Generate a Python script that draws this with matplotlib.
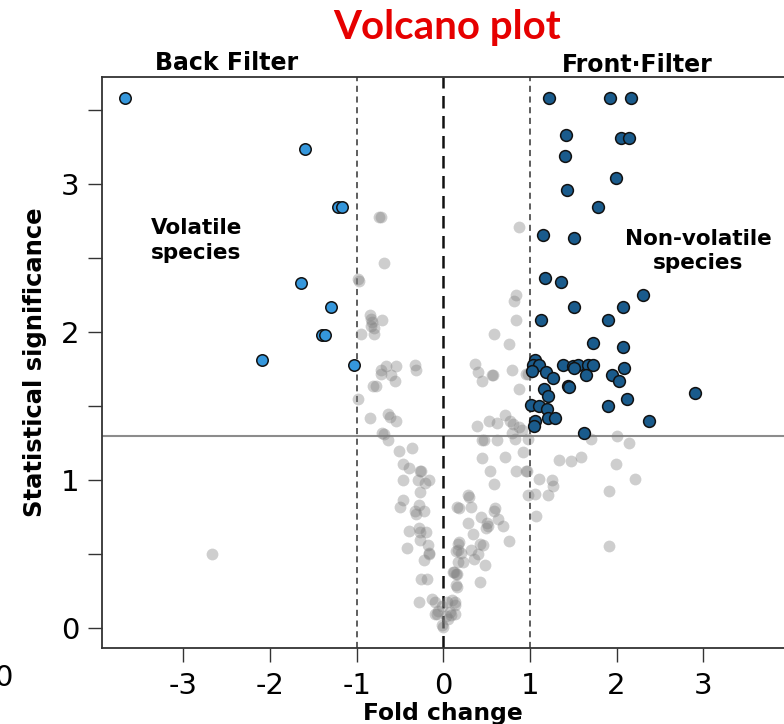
import matplotlib
matplotlib.use("Agg")
import matplotlib.pyplot as plt

plt.rcParams['axes.unicode_minus'] = False
plt.rcParams['font.family'] = ['DejaVu Sans']

# non-significant compounds
gray_fc = [-2.67, -0.74, -0.72, -0.68, -0.98, -0.97, -0.85, -0.83, -0.82, -0.71,
           -0.84, -0.80, -0.95, -0.80, -0.72, -0.66, -0.55, -0.72, -0.60, -0.56,
           -0.33, -0.32, -0.81, -0.78, -0.99, -0.85, -0.64, -0.61, -0.55,
           -0.71, -0.69, -0.64, -0.51, -0.36, -0.46, -0.40, -0.26, -0.27,
           -0.47, -0.29, -0.21, -0.16, -0.27, -0.46, -0.50, -0.28, -0.33, -0.31,
           -0.22, 0.16, -0.40, -0.28, -0.27, -0.20, -0.27, -0.42, -0.18, -0.16,
           -0.17, -0.22, 0.17, 0.15, 0.17, -0.26, -0.19, 0.12, 0.15, 0.15, -0.28,
           -0.13, -0.10, -0.06, -0.10, -0.02, 0.04, 0.10, 0.13, 0.08, 0.03, 0.00,
           0.06, 0.13, -0.01, -0.07, 0.09, 0.14,
           0.39, 0.53, 0.62, 0.71, 0.77, 0.80, 0.87, 0.91, 0.79,
           0.45, 0.47, 0.62, 0.83, 0.98, 0.45, 0.71, 0.92,
           0.54, 0.84, 0.95, 0.97, 0.585, 1.10, 1.26, 1.27, 1.21, 1.06, 0.98,
           0.29, 0.30, 0.18, 0.32, 1.07, 0.44, 0.60, 0.58, 0.635, 0.69, 0.50,
           0.52, 0.49, 0.29, 0.34, 0.76, 0.185, 0.32, 0.42, 0.46, 0.21, 0.35,
           0.40, 0.48, 0.17, 0.23, 0.115, 0.155, 0.155, 0.42,
           0.87, 0.84, 0.82, 0.84, 0.58, 0.76, 0.37, 0.40, 0.45, 0.56, 0.57,
           0.79, 0.96, 0.87, 0.98,
           1.34, 1.48, 1.59, 2.01, 2.14, 1.70, 1.99, 2.21, 1.91, 1.91]
gray_sig = [0.50, 2.78, 2.78, 2.47, 2.36, 2.35, 2.12, 2.09, 2.07, 2.08,
            2.04, 2.03, 1.99, 1.99, 1.745, 1.77, 1.77, 1.72, 1.71, 1.67,
            1.78, 1.745, 1.64, 1.64, 1.55, 1.42, 1.45, 1.43, 1.40,
            1.32, 1.31, 1.27, 1.20, 1.22, 1.11, 1.08, 1.065, 1.06,
            1.00, 1.00, 0.98, 1.00, 0.92, 0.87, 0.82, 0.83, 0.79, 0.77,
            0.79, 0.82, 0.66, 0.68, 0.65, 0.65, 0.60, 0.54, 0.56, 0.51,
            0.50, 0.46, 0.57, 0.52, 0.45, 0.33, 0.33, 0.38, 0.37, 0.29, 0.18,
            0.20, 0.18, 0.12, 0.10, 0.15, 0.18, 0.19, 0.16, 0.11, 0.08, 0.01,
            0.06, 0.10, 0.02, 0.10, 0.09, 0.18,
            1.37, 1.40, 1.39, 1.44, 1.40, 1.38, 1.36, 1.34, 1.32,
            1.27, 1.27, 1.27, 1.28, 1.28, 1.15, 1.155, 1.19,
            1.06, 1.06, 1.06, 1.06, 0.975, 1.01, 1.00, 0.96, 0.90, 0.91, 0.90,
            0.90, 0.885, 0.815, 0.82, 0.76, 0.755, 0.81, 0.79, 0.74, 0.69, 0.71,
            0.69, 0.675, 0.71, 0.64, 0.59, 0.58, 0.53, 0.57, 0.56, 0.51, 0.47,
            0.50, 0.43, 0.53, 0.45, 0.38, 0.37, 0.28, 0.31,
            2.71, 2.25, 2.21, 2.08, 1.99, 1.92, 1.785, 1.73, 1.67, 1.71, 1.71,
            1.745, 1.72, 1.615, 1.72,
            1.14, 1.13, 1.16, 1.30, 1.25, 1.28, 1.11, 1.01, 0.93, 0.556]

# significant, lower in front filter
back_fc = [-3.67, -1.60, -1.22, -1.17, -1.64, -1.30, -1.40, -1.37, -2.09, -1.03]
back_sig = [3.58, 3.24, 2.85, 2.85, 2.33, 2.17, 1.98, 1.98, 1.81, 1.78]

# significant, higher in front filter
front_fc = [1.225, 1.925, 2.17, 1.42, 2.05, 2.15, 1.405, 1.99, 1.43, 1.79,
            1.155, 1.51, 1.17, 1.36, 2.31, 1.505, 2.07, 1.125, 1.90, 1.725,
            2.07, 1.06, 1.03, 1.11, 1.02, 1.38, 1.50, 1.55, 1.51, 1.67,
            1.725, 1.65, 2.09, 1.19, 1.27, 1.95, 2.03, 1.16, 1.21, 1.44,
            1.455, 2.12, 2.91, 1.01, 1.10, 1.20, 1.21, 1.29, 1.905, 2.37,
            1.06, 1.05, 1.62]
front_sig = [3.58, 3.58, 3.58, 3.33, 3.31, 3.31, 3.19, 3.045, 2.96, 2.85,
             2.66, 2.64, 2.365, 2.34, 2.25, 2.17, 2.17, 2.08, 2.08, 1.93,
             1.90, 1.81, 1.78, 1.78, 1.74, 1.78, 1.77, 1.78, 1.76, 1.78,
             1.78, 1.71, 1.76, 1.73, 1.69, 1.71, 1.67, 1.62, 1.57, 1.64,
             1.63, 1.55, 1.59, 1.51, 1.50, 1.48, 1.42, 1.42, 1.50, 1.40,
             1.40, 1.37, 1.32]

p_cut = 1.301  # -log10(0.05)
fc_cut = 1.0

fig = plt.figure(figsize=(7.84, 7.24), dpi=100)
ax = fig.add_axes([102 / 784, 1 - 648 / 724, 682 / 784, 571 / 724])

ax.axhline(p_cut, color='#8c8c8c', lw=1.5, zorder=1)
ax.axvline(-fc_cut, color='#333333', lw=1.1, ls=(0, (4, 3)), zorder=1)
ax.axvline(fc_cut, color='#333333', lw=1.1, ls=(0, (4, 3)), zorder=1)
ax.axvline(0, color='#111111', lw=1.8, ls=(0, (5, 3)), zorder=1)

ax.scatter(gray_fc, gray_sig, s=72, color='#7f7f7f', alpha=0.38,
           linewidths=0, zorder=2)
ax.scatter(back_fc, back_sig, s=68, color='#3597dc', edgecolors='#111111',
           linewidths=1.1, zorder=3)
ax.scatter(front_fc, front_sig, s=72, color='#1a5b8c', edgecolors='#111111',
           linewidths=1.1, zorder=3)

ax.set_xlim(-3.941, 3.934)
ax.set_ylim(-0.133, 3.725)
ax.set_xticks([-3, -2, -1, 0, 1, 2, 3])
ax.set_yticks([0, 1, 2, 3])
ax.set_yticks([0.5, 1.5, 2.5, 3.5], minor=True)
ax.tick_params(axis='both', which='both', direction='out', length=10,
               width=1.0, color='#333333', labelsize=21)
ax.tick_params(axis='y', pad=6)
ax.tick_params(axis='x', pad=7)
for side in ['left', 'bottom', 'top']:
    ax.spines[side].set_color('#333333')
    ax.spines[side].set_linewidth(1.3)
ax.spines['right'].set_visible(False)

ax.set_ylabel('Statistical significance', fontsize=17.5, fontweight='bold',
              labelpad=10)
ax.set_xlabel('Fold change', fontsize=16.8, fontweight='bold', labelpad=2)

fig.text(447 / 784, 1 - 27 / 724, 'Volcano plot', color='#e60000',
         fontsize=29, fontweight='bold', family=['Lato', 'DejaVu Sans'],
         ha='center', va='center')
fig.text(227 / 784, 1 - 63 / 724, 'Back Filter', fontsize=17,
         fontweight='bold', ha='center', va='center')
fig.text(637 / 784, 1 - 65 / 724, 'Front\u00b7Filter', fontsize=17,
         fontweight='bold', ha='center', va='center')

ax.text(-2.85, 2.62, 'Volatile\nspecies', fontsize=15.5, fontweight='bold',
        ha='center', va='center', linespacing=1.3)
ax.text(2.94, 2.55, 'Non-volatile\nspecies', fontsize=15.5, fontweight='bold',
        ha='center', va='center', linespacing=1.3)

fig.text(12 / 784, 1 - 678 / 724, '0', fontsize=21, ha='right', va='center')

fig.savefig('out.png', dpi=100)
